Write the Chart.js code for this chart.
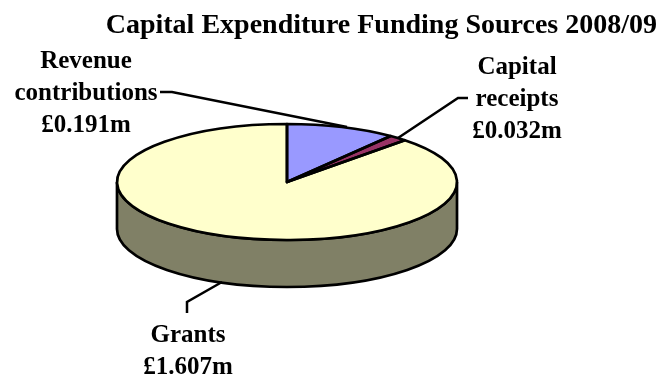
<!DOCTYPE html>
<html>
<head>
<meta charset="utf-8">
<script src="https://cdn.jsdelivr.net/npm/chart.js@4"></script>
<style>
html,body{margin:0;padding:0;background:#fff}
#wrap{width:661px;height:376px;position:relative}
</style>
</head>
<body>
<div id="wrap"><canvas id="c" width="661" height="376"></canvas></div>
<script>
// Funding sources, in £m
const categories = ['Revenue contributions', 'Capital receipts', 'Grants'];
const values = [0.191, 0.032, 1.607];
const valueLabels = ['£0.191m', '£0.032m', '£1.607m'];
const sliceColors = ['#9999FF', '#993366', '#FFFFCC'];
const chartTitle = 'Capital Expenditure Funding Sources 2008/09';

// Tilted disc geometry
const disc = {cx: 287, cy: 182, rx: 170, ry: 58, depth: 47};
const wallColor = '#808066';
const outline = 2.7;
const fontFamily = '"Liberation Serif", serif';

// Callouts: text lines with centre x and baselines, plus the leader polyline
const callouts = [
  {lines: ['Revenue', 'contributions', valueLabels[0]], x: 86, ys: [68, 100, 132],
   leader: [[160, 92], [172, 92], [347, 127]]},
  {lines: ['Capital', 'receipts', valueLabels[1]], x: 517, ys: [74, 106, 138],
   leader: [[468, 98], [458, 98], [398, 138]]},
  {lines: ['Grants', valueLabels[2]], x: 188, ys: [342, 374],
   leader: [[222, 282], [187, 302], [187, 313]]}
];

const tiltedDisc = {
  id: 'tiltedDisc',
  beforeDatasetsDraw(chart) {
    const ctx = chart.ctx;
    const arc = chart.getDatasetMeta(0).data[0];
    const {cx, cy, rx, ry, depth} = disc;
    // Side wall below the front half of the rim
    ctx.save();
    ctx.beginPath();
    ctx.ellipse(cx, cy + depth, rx, ry, 0, 0, Math.PI);
    ctx.lineTo(cx - rx, cy);
    ctx.ellipse(cx, cy, rx, ry, 0, Math.PI, 0, true);
    ctx.closePath();
    ctx.fillStyle = wallColor;
    ctx.fill();
    ctx.lineWidth = outline;
    ctx.strokeStyle = '#000';
    ctx.stroke();
    ctx.restore();
    // Squash the library's round pie onto the ellipse
    ctx.save();
    ctx.translate(cx, cy);
    ctx.scale(rx / arc.outerRadius, ry / arc.outerRadius);
    ctx.translate(-arc.x, -arc.y);
  },
  afterDatasetsDraw(chart) {
    const ctx = chart.ctx;
    ctx.restore();
    const {cx, cy, rx, ry} = disc;
    ctx.save();
    ctx.lineWidth = outline;
    ctx.strokeStyle = '#000';
    ctx.lineJoin = 'round';
    // Slice outlines, from the angles the library computed
    chart.getDatasetMeta(0).data.forEach(a => {
      ctx.beginPath();
      ctx.moveTo(cx, cy);
      ctx.ellipse(cx, cy, rx, ry, 0, a.startAngle, a.endAngle);
      ctx.closePath();
      ctx.stroke();
    });
    // Leaders and callout text
    ctx.lineWidth = 2.5;
    ctx.lineJoin = 'miter';
    ctx.fillStyle = '#000';
    ctx.font = 'bold 25px ' + fontFamily;
    ctx.textAlign = 'center';
    ctx.textBaseline = 'alphabetic';
    callouts.forEach(c => {
      ctx.beginPath();
      c.leader.forEach((p, i) => i ? ctx.lineTo(p[0], p[1]) : ctx.moveTo(p[0], p[1]));
      ctx.stroke();
      c.lines.forEach((t, i) => ctx.fillText(t, c.x, c.ys[i]));
    });
    ctx.restore();
  }
};

new Chart(document.getElementById('c'), {
  type: 'pie',
  data: {
    labels: categories,
    datasets: [{
      data: values,
      backgroundColor: sliceColors,
      borderWidth: 0,
      clip: false
    }]
  },
  options: {
    responsive: false,
    animation: false,
    events: [],
    rotation: 0,
    layout: {padding: {right: 4}},
    plugins: {
      legend: {display: false},
      tooltip: {enabled: false},
      title: {
        display: true,
        text: chartTitle,
        align: 'end',
        color: '#000',
        font: {family: fontFamily, size: 28, weight: 'bold'},
        padding: {top: 9, bottom: 8}
      }
    }
  },
  plugins: [tiltedDisc]
});
</script>
</body>
</html>
